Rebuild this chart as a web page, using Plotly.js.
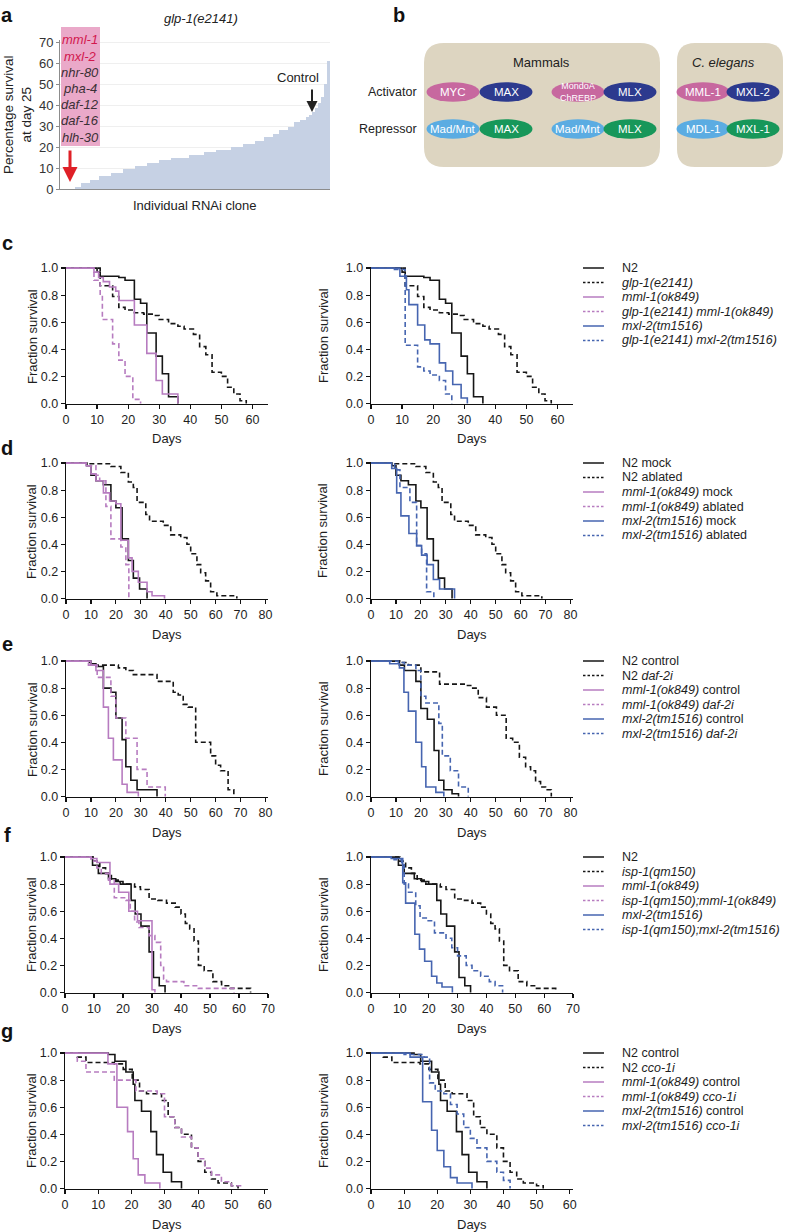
<!DOCTYPE html>
<html><head><meta charset="utf-8">
<script src="https://cdn.plot.ly/plotly-3.0.1.min.js"></script>
<style>html,body{margin:0;padding:0;background:#fff}#chart{width:788px;height:1232px}</style>
</head><body><div id="chart"></div>
<script>
// ---------------- Panel a data ----------------
const clonePct = [0,0,0,0,0, 1,1, 2.7,2.7,2.7, 4.5,4.5,4.5, 6,6,6,6, 7.6,7.6,7.6,7.6, 9.5,9.5,9.5,9.5,
  11,11,11,11, 12.4,12.4,12.4,12.4, 13.8,13.8,13.8,13.8, 15,15,15,15,15,15, 16.4,16.4,16.4,16.4,16.4,
  17.5,17.5,17.5,17.5, 18.8,18.8,18.8,18.8,18.8, 19.9,19.9,19.9,19.9, 21.5,21.5,21.5,21.5, 23,23,23,
  24.7,24.7,24.7, 26.2,26.2, 28,28,28, 29.7,29.7, 31.8,31.8, 33,33, 34.2, 35.5, 36.6, 38.5, 41, 44, 50, 61];
const hitGenes = ['mml-1','mxl-2','nhr-80','pha-4','daf-12','daf-16','hlh-30'];
const hitHighlight = [true,true,false,false,false,false,false];

// ---------------- Panel b data ----------------
const mamActivators = ['MYC','MAX','MondoA<br>ChREBP','MLX'];
const mamRepressors = ['Mad/Mnt','MAX','Mad/Mnt','MLX'];
const ceActivators = ['MML-1','MXL-2'];
const ceRepressors = ['MDL-1','MXL-1'];
const actRole = ['pink','navy','pink','navy'];
const repRole = ['sky','green','sky','green'];

// ---------------- Survival data (day, fraction) ----------------
// c
const c_N2_days = [0,10,11,17,19,22,24,26,29,31,33,36];
const c_N2_surv = [1,0.97,0.94,0.93,0.91,0.77,0.74,0.52,0.35,0.22,0.05,0];
const c_glp1_days = [0,11,15,17,19,22,25,28,30,33,36,38,41,43,45,47,50,52,54,56,58];
const c_glp1_surv = [1,0.87,0.79,0.71,0.69,0.67,0.66,0.65,0.62,0.59,0.57,0.55,0.51,0.42,0.36,0.23,0.2,0.12,0.07,0.02,0];
const c_mml1_days = [0,9,10.5,12,14,16,17,22,26,29,31,36];
const c_mml1_surv = [1,0.97,0.93,0.90,0.86,0.83,0.76,0.58,0.37,0.17,0.07,0];
const c_glpMml_days = [0,9,11,11.7,15,17,19,21.5,24];
const c_glpMml_surv = [1,0.91,0.8,0.62,0.44,0.32,0.2,0.03,0];
const c_mxl2_days = [0,9.3,11.4,12.2,15,17.3,19,22,24,26.3,29,31];
const c_mxl2_surv = [1,0.94,0.84,0.73,0.58,0.47,0.44,0.30,0.24,0.14,0.04,0];
const c_glpMxl_days = [0,7,11,15,17,19,22,24,26];
const c_glpMxl_surv = [1,0.99,0.43,0.27,0.24,0.21,0.17,0.07,0];
// d
const d_N2_days = [0,8.4,10,12,15,18,20,22.5,25,27,29.5,32.5];
const d_N2_surv = [1,0.98,0.91,0.87,0.84,0.72,0.67,0.44,0.28,0.15,0.07,0];
const d_N2abl_days = [0,9,18,22,25,27,28.5,32,33.5,39,42,46,48.5,50,52.5,54,56,58,60.5,68.5];
const d_N2abl_surv = [1,0.995,0.975,0.93,0.86,0.82,0.71,0.62,0.57,0.54,0.47,0.45,0.40,0.33,0.25,0.19,0.13,0.05,0.02,0];
const d_mml1_days = [0,8,10,12,15,17.5,20,22,25,26.5,29,32.5,34.5,39.5];
const d_mml1_surv = [1,0.98,0.92,0.87,0.78,0.72,0.70,0.43,0.30,0.2,0.12,0.05,0.02,0];
const d_mml1abl_days = [0,8.5,12,13.5,16,18,22,24,25.2];
const d_mml1abl_surv = [1,0.98,0.91,0.87,0.68,0.44,0.38,0.25,0];
const d_mxl2_days = [0,8.3,10.3,12,15.2,18.3,20.3,22.5,25,27.5,33.5];
const d_mxl2_surv = [1,0.96,0.78,0.61,0.48,0.39,0.32,0.25,0.14,0.07,0];
const d_mxl2abl_days = [0,9.5,11.6,15.6,18.3,20.3,22.3,25.2];
const d_mxl2abl_surv = [1,0.95,0.82,0.71,0.39,0.33,0.05,0];
// e
const e_N2L_days = [0,10,12,15,18,20,22.5,24,26,28.5,36.5];
const e_N2L_surv = [1,0.98,0.96,0.80,0.77,0.58,0.42,0.22,0.12,0.05,0];
const e_daf2L_days = [0,9,10,21,24,27,36.5,43,45,47,49,52,58,60,62,65,67.3];
const e_daf2L_surv = [1,0.99,0.97,0.95,0.93,0.90,0.85,0.77,0.75,0.68,0.66,0.40,0.30,0.23,0.19,0.05,0];
const e_mml1_days = [0,10,12,15,17,19,22.5,24.5,29];
const e_mml1_surv = [1,0.97,0.93,0.66,0.43,0.27,0.09,0.03,0];
const e_mml1daf2_days = [0,9,12.5,18,20,24,28.5,32.5,39.8];
const e_mml1daf2_surv = [1,0.97,0.88,0.74,0.58,0.43,0.2,0.07,0];
const e_N2R_days = [0,11.4,13.4,18,20,22.6,25.3,27.2,29.2,32.5,35.1];
const e_N2R_surv = [1,0.97,0.93,0.85,0.65,0.57,0.34,0.12,0.05,0.02,0];
const e_daf2R_days = [0,11.5,15,20,27.5,38,40,43,46.3,50.3,54.2,56.8,59.5,62,64,66,68,70,72.3];
const e_daf2R_surv = [1,0.99,0.97,0.92,0.83,0.82,0.80,0.73,0.66,0.60,0.43,0.40,0.29,0.22,0.19,0.11,0.07,0.05,0];
const e_mxl2_days = [0,7.5,11.4,13.2,15,18,20.3,22,26,29.2];
const e_mxl2_surv = [1,0.98,0.95,0.77,0.63,0.40,0.22,0.07,0.03,0];
const e_mxl2daf2_days = [0,11,13.4,18,20,22,27.2,28.6,31.8,35.1,39];
const e_mxl2daf2_surv = [1,0.99,0.97,0.93,0.74,0.69,0.54,0.30,0.19,0.07,0];
// f
const f_N2_days = [0,9.5,11.5,15,17.5,20,22.8,24.2,26.2,29,30.5,32.5,34.5];
const f_N2_surv = [1,0.94,0.88,0.84,0.82,0.80,0.68,0.58,0.49,0.30,0.11,0.05,0];
const f_isp1_days = [0,10,12,14,16,19,24,26,29,32,35,38,40,41.5,43,44.5,46,48,51,54,57,64];
const f_isp1_surv = [1,0.97,0.92,0.88,0.83,0.80,0.78,0.76,0.69,0.68,0.66,0.63,0.58,0.51,0.47,0.38,0.2,0.16,0.08,0.05,0.03,0];
const f_mml1_days = [0,9,11,15.5,18.5,22,25,30,31];
const f_mml1_surv = [1,0.99,0.96,0.80,0.74,0.60,0.53,0.02,0];
const f_ispMml_days = [0,9,11,12.5,15,17,21,22.5,24,25.5,29,31,33,34,35,41,46,58.3];
const f_ispMml_surv = [1,0.97,0.92,0.88,0.83,0.70,0.68,0.60,0.52,0.48,0.42,0.37,0.2,0.1,0.08,0.05,0.03,0];
const f_mxl2_days = [0,7,11,12,15.2,16.8,18.6,21,22.8,24.6,28.2];
const f_mxl2_surv = [1,0.99,0.81,0.66,0.43,0.32,0.23,0.12,0.07,0.04,0];
const f_ispMxl_days = [0,8,10.6,11.5,13,15.5,17,19.5,22,26,28,30,33,35,38,41,43,45.6];
const f_ispMxl_surv = [1,0.98,0.95,0.80,0.74,0.64,0.55,0.53,0.44,0.40,0.33,0.27,0.2,0.16,0.12,0.08,0.05,0];
// g
const g_N2_days = [0,13,15,18.3,20.5,21,23,25.8,27.5,29.5,32,35];
const g_N2_surv = [1,0.99,0.94,0.86,0.77,0.65,0.57,0.42,0.25,0.12,0.05,0];
const g_cco_days = [0,3.7,6.3,14.8,17.5,20.2,22.4,24.5,29,31,33,35,38,40,42,44,46,50,52];
const g_cco_surv = [1,0.97,0.93,0.92,0.88,0.80,0.72,0.70,0.65,0.53,0.45,0.40,0.30,0.2,0.12,0.07,0.04,0.02,0];
const g_mml1_days = [0,12.9,15.6,18.8,20.5,22,24,28.5];
const g_mml1_surv = [1,0.92,0.60,0.42,0.22,0.10,0.04,0];
const g_mml1cco_days = [0,3.7,6.3,14.8,21.3,27.7,29.9,33,35,38,40,42,44,47,50,53];
const g_mml1cco_surv = [1,0.94,0.86,0.80,0.72,0.70,0.53,0.45,0.38,0.30,0.22,0.15,0.10,0.05,0.02,0];
const g_mxl2_days = [0,11.8,15.6,18.3,20,22,24,26,30.5];
const g_mxl2_surv = [1,0.97,0.64,0.43,0.28,0.16,0.08,0.04,0];
const g_mxl2cco_days = [0,10,16,17.7,19.4,22,24,26,28,30,32,35,38,40,42];
const g_mxl2cco_surv = [1,0.99,0.97,0.78,0.72,0.70,0.62,0.55,0.45,0.37,0.30,0.20,0.12,0.06,0];

// ---------------- Legend labels ----------------
const legendC = ['N2','<i>glp-1(e2141)</i>','<i>mml-1(ok849)</i>','<i>glp-1(e2141) mml-1(ok849)</i>','<i>mxl-2(tm1516)</i>','<i>glp-1(e2141) mxl-2(tm1516)</i>'];
const legendD = ['N2 mock','N2 ablated','<i>mml-1(ok849)</i> mock','<i>mml-1(ok849)</i> ablated','<i>mxl-2(tm1516)</i> mock','<i>mxl-2(tm1516)</i> ablated'];
const legendE = ['N2 control','N2 <i>daf-2i</i>','<i>mml-1(ok849)</i> control','<i>mml-1(ok849) daf-2i</i>','<i>mxl-2(tm1516)</i> control','<i>mxl-2(tm1516) daf-2i</i>'];
const legendF = ['N2','<i>isp-1(qm150)</i>','<i>mml-1(ok849)</i>','<i>isp-1(qm150);mml-1(ok849)</i>','<i>mxl-2(tm1516)</i>','<i>isp-1(qm150);mxl-2(tm1516)</i>'];
const legendG = ['N2 control','N2 <i>cco-1i</i>','<i>mml-1(ok849)</i> control','<i>mml-1(ok849) cco-1i</i>','<i>mxl-2(tm1516)</i> control','<i>mxl-2(tm1516) cco-1i</i>'];

// ---------------- Drawing ----------------
const W = 788, H = 1232;
const px = v => v / W;
const py = v => 1 - v / H;
const FONT = 'Liberation Sans, Arial, Helvetica, sans-serif';
const BLACK = '#161616', PINK = '#b77cc0', BLUE = '#4665b0';
const DASH = '5px,3px';
const STYLES = [
  {color: BLACK, dash: 'solid'}, {color: BLACK, dash: DASH},
  {color: PINK, dash: 'solid'}, {color: PINK, dash: DASH},
  {color: BLUE, dash: 'solid'}, {color: BLUE, dash: DASH}
];
const ROLE_COLORS = {pink: '#c7689f', navy: '#2c3a8e', sky: '#5bace2', green: '#17975a'};

const traces = [];
const shapes = [];
const annotations = [];
const layout = {
  width: W, height: H, margin: {l: 0, r: 0, t: 0, b: 0},
  paper_bgcolor: '#ffffff', plot_bgcolor: 'rgba(0,0,0,0)',
  showlegend: false, bargap: 0,
  font: {family: FONT, size: 12.5, color: '#1e1e1e'}
};

function txt(x, y, text, opt) {
  annotations.push(Object.assign({
    xref: 'paper', yref: 'paper', x: px(x), y: py(y), text: text, showarrow: false,
    xanchor: 'center', yanchor: 'middle', font: {family: FONT, size: 12.5, color: '#1e1e1e'}
  }, opt || {}));
}

// ----- Panel a -----
traces.push({
  type: 'bar', x: clonePct.map((_, i) => i), y: clonePct, xaxis: 'x', yaxis: 'y',
  marker: {color: '#c6d1e4', line: {width: 0}}, hoverinfo: 'skip'
});
layout.xaxis = {domain: [px(60), px(330)], range: [-0.5, clonePct.length - 0.5], anchor: 'y',
  showline: true, linecolor: '#8c8c8c', linewidth: 1, showticklabels: false, ticks: '',
  showgrid: false, zeroline: false, fixedrange: true};
layout.yaxis = {domain: [py(189), py(40)], range: [0, 71], anchor: 'x', showline: true,
  linecolor: '#8c8c8c', linewidth: 1, ticks: 'outside', ticklen: 3, tickcolor: '#8c8c8c',
  dtick: 10, tick0: 0, showgrid: true, gridcolor: '#efefef', zeroline: false,
  tickfont: {size: 13, color: '#333'}, fixedrange: true};
shapes.push({type: 'rect', xref: 'paper', yref: 'paper', x0: px(61), x1: px(100), y0: py(146), y1: py(27),
  fillcolor: '#eaa9c9', line: {width: 0}, layer: 'above'});
hitGenes.forEach((g, i) => {
  txt(80, 40 + i * 16.2, '<i>' + g + '</i>', {font: {family: FONT, size: 13, color: hitHighlight[i] ? '#d2184e' : '#3a3035'}});
});
txt(7, 15, '<b>a</b>', {font: {family: FONT, size: 20, color: '#111'}});
txt(201, 18, '<i>glp-1(e2141)</i>', {font: {family: FONT, size: 13, color: '#222'}});
txt(17, 115, 'Percentage survival<br>at day 25', {textangle: -90, font: {family: FONT, size: 13.5, color: '#222'}});
txt(195, 206, 'Individual RNAi clone', {font: {family: FONT, size: 13, color: '#222'}});
txt(298, 77, 'Control', {font: {family: FONT, size: 13, color: '#222'}});
annotations.push({xref: 'paper', yref: 'paper', x: px(312), y: py(112), ax: 0, ay: -24, text: '',
  showarrow: true, arrowhead: 2, arrowsize: 1.1, arrowwidth: 2, arrowcolor: '#222'});
annotations.push({xref: 'paper', yref: 'paper', x: px(70), y: py(182), ax: 0, ay: -33, text: '',
  showarrow: true, arrowhead: 2, arrowsize: 1, arrowwidth: 3, arrowcolor: '#df2027'});

// ----- Panel b -----
function roundRect(x0, y0, x1, y1, r) {
  const P = (x, y) => px(x) + ',' + py(y);
  return 'M' + P(x0 + r, y0) + ' L' + P(x1 - r, y0) + ' Q' + P(x1, y0) + ' ' + P(x1, y0 + r) +
    ' L' + P(x1, y1 - r) + ' Q' + P(x1, y1) + ' ' + P(x1 - r, y1) +
    ' L' + P(x0 + r, y1) + ' Q' + P(x0, y1) + ' ' + P(x0, y1 - r) +
    ' L' + P(x0, y0 + r) + ' Q' + P(x0, y0) + ' ' + P(x0 + r, y0) + ' Z';
}
shapes.push({type: 'path', xref: 'paper', yref: 'paper', path: roundRect(424, 43, 660, 167, 20), fillcolor: '#ddd5c1', line: {width: 0}});
shapes.push({type: 'path', xref: 'paper', yref: 'paper', path: roundRect(677, 43, 783, 167, 18), fillcolor: '#ddd5c1', line: {width: 0}});
txt(399, 15, '<b>b</b>', {font: {family: FONT, size: 20, color: '#111'}});
txt(541, 62, 'Mammals', {font: {family: FONT, size: 13, color: '#222'}});
txt(723, 62, '<i>C. elegans</i>', {font: {family: FONT, size: 13, color: '#222'}});
txt(419, 92, 'Activator', {xanchor: 'right', font: {family: FONT, size: 12.5, color: '#222'}});
txt(419, 129, 'Repressor', {xanchor: 'right', font: {family: FONT, size: 12.5, color: '#222'}});
function protein(cx, cy, label, role) {
  shapes.push({type: 'circle', xref: 'paper', yref: 'paper', x0: px(cx - 26.5), x1: px(cx + 26.5),
    y0: py(cy + 9.8), y1: py(cy - 9.8), fillcolor: ROLE_COLORS[role], line: {width: 0}});
  const small = label.indexOf('<br>') >= 0;
  txt(cx, cy, label, {font: {family: FONT, size: small ? 9 : 11.5, color: '#ffffff'}});
}
const mamX = [453, 506, 578, 630], ceX = [703, 753];
mamActivators.forEach((l, i) => protein(mamX[i], 92, l, actRole[i]));
mamRepressors.forEach((l, i) => protein(mamX[i], 129, l, repRole[i]));
ceActivators.forEach((l, i) => protein(ceX[i], 92, l, ['pink', 'navy'][i]));
ceRepressors.forEach((l, i) => protein(ceX[i], 129, l, ['sky', 'green'][i]));

// ----- Survival rows -----
const rowsSpec = [
  {letter: 'c', top: 268, letterY: 243, xmax: 65, xl0: 66,
   left: [[c_N2_days, c_N2_surv, 0], [c_glp1_days, c_glp1_surv, 1], [c_mml1_days, c_mml1_surv, 2], [c_glpMml_days, c_glpMml_surv, 3]],
   right: [[c_N2_days, c_N2_surv, 0], [c_glp1_days, c_glp1_surv, 1], [c_mxl2_days, c_mxl2_surv, 4], [c_glpMxl_days, c_glpMxl_surv, 5]],
   legend: legendC},
  {letter: 'd', top: 463, letterY: 448, xmax: 81, xl0: 66,
   left: [[d_N2_days, d_N2_surv, 0], [d_N2abl_days, d_N2abl_surv, 1], [d_mml1_days, d_mml1_surv, 2], [d_mml1abl_days, d_mml1abl_surv, 3]],
   right: [[d_N2_days, d_N2_surv, 0], [d_N2abl_days, d_N2abl_surv, 1], [d_mxl2_days, d_mxl2_surv, 4], [d_mxl2abl_days, d_mxl2abl_surv, 5]],
   legend: legendD},
  {letter: 'e', top: 661, letterY: 644, xmax: 81, xl0: 66,
   left: [[e_N2L_days, e_N2L_surv, 0], [e_daf2L_days, e_daf2L_surv, 1], [e_mml1_days, e_mml1_surv, 2], [e_mml1daf2_days, e_mml1daf2_surv, 3]],
   right: [[e_N2R_days, e_N2R_surv, 0], [e_daf2R_days, e_daf2R_surv, 1], [e_mxl2_days, e_mxl2_surv, 4], [e_mxl2daf2_days, e_mxl2daf2_surv, 5]],
   legend: legendE},
  {letter: 'f', top: 857, letterY: 835, xmax: 70, xl0: 65,
   left: [[f_N2_days, f_N2_surv, 0], [f_isp1_days, f_isp1_surv, 1], [f_mml1_days, f_mml1_surv, 2], [f_ispMml_days, f_ispMml_surv, 3]],
   right: [[f_N2_days, f_N2_surv, 0], [f_isp1_days, f_isp1_surv, 1], [f_mxl2_days, f_mxl2_surv, 4], [f_ispMxl_days, f_ispMxl_surv, 5]],
   legend: legendF},
  {letter: 'g', top: 1053, letterY: 1031, xmax: 61, xl0: 65,
   left: [[g_N2_days, g_N2_surv, 0], [g_cco_days, g_cco_surv, 1], [g_mml1_days, g_mml1_surv, 2], [g_mml1cco_days, g_mml1cco_surv, 3]],
   right: [[g_N2_days, g_N2_surv, 0], [g_cco_days, g_cco_surv, 1], [g_mxl2_days, g_mxl2_surv, 4], [g_mxl2cco_days, g_mxl2cco_surv, 5]],
   legend: legendG}
];

function axisCommon() {
  return {showline: true, linecolor: '#111', linewidth: 1.3, ticks: 'outside', ticklen: 4,
    tickwidth: 1.2, tickcolor: '#111', showgrid: false, zeroline: false, fixedrange: true,
    tickfont: {family: FONT, size: 12.5, color: '#1e1e1e'}};
}

rowsSpec.forEach((row, r) => {
  const top = row.top, bot = row.top + 136;
  [['left', row.xl0, 268], ['right', 371, 573]].forEach(([side, x0, x1], k) => {
    const n = 2 + 2 * r + k;
    const xa = 'xaxis' + n, ya = 'yaxis' + n;
    layout[xa] = Object.assign(axisCommon(), {domain: [px(x0), px(x1)], range: [0, row.xmax],
      anchor: 'y' + n, dtick: 10, tick0: 0});
    layout[ya] = Object.assign(axisCommon(), {domain: [py(bot), py(top - 1)], range: [-0.004, 1.008],
      anchor: 'x' + n, dtick: 0.2, tick0: 0, tickformat: '.1f'});
    row[side].forEach(([d, s, st]) => {
      traces.push({type: 'scatter', mode: 'lines', x: d, y: s, xaxis: 'x' + n, yaxis: 'y' + n,
        line: {shape: 'hv', color: STYLES[st].color, dash: STYLES[st].dash, width: 1.6}, hoverinfo: 'skip'});
    });
    txt(x0 - 34 - (k ? 14 : 0), (top + bot) / 2, 'Fraction survival', {textangle: -90, font: {family: FONT, size: 13, color: '#1e1e1e'}});
    txt((x0 + x1) / 2, top + 171, 'Days', {font: {family: FONT, size: 13, color: '#1e1e1e'}});
  });
  txt(7, row.letterY, '<b>' + row.letter + '</b>', {font: {family: FONT, size: 20, color: '#111'}});
  row.legend.forEach((lab, i) => {
    const y = top + 14.5 * i;
    shapes.push({type: 'line', xref: 'paper', yref: 'paper', x0: px(583), x1: px(604), y0: py(y), y1: py(y),
      line: {color: STYLES[i].color, width: 1.5, dash: i % 2 ? '2.5px,2px' : 'solid'}});
    txt(620, y, lab, {xanchor: 'left', font: {family: FONT, size: 12.5, color: '#1e1e1e'}});
  });
});

layout.shapes = shapes;
layout.annotations = annotations;
Plotly.newPlot('chart', traces, layout, {displayModeBar: false, staticPlot: true});
</script></body></html>
